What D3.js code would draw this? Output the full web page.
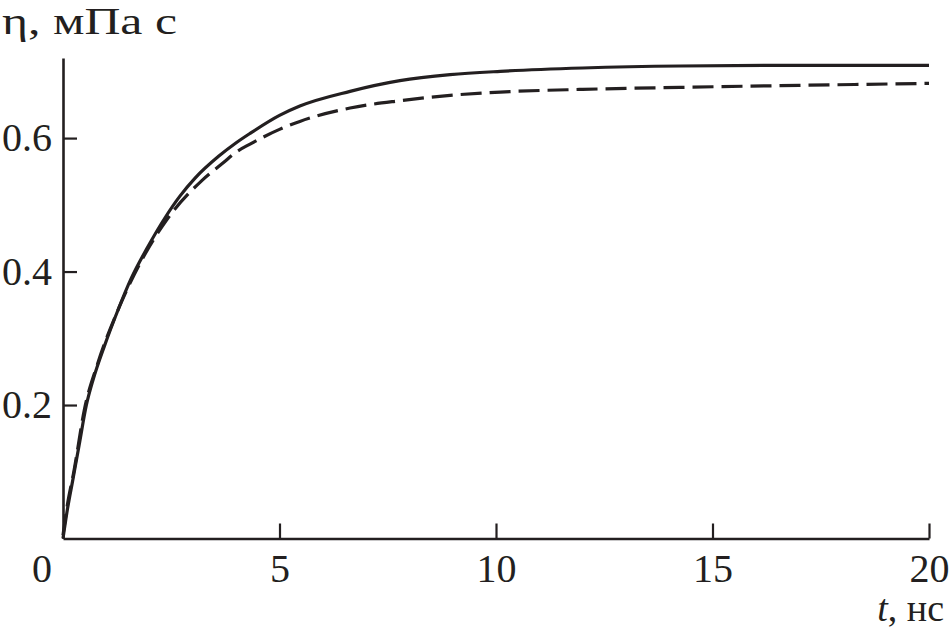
<!DOCTYPE html>
<html>
<head>
<meta charset="utf-8">
<script src="https://cdn.jsdelivr.net/npm/d3@7"></script>
<style>
  html, body { margin: 0; padding: 0; background: #fff; }
  svg { display: block; }
  svg text { font-family: "Liberation Serif", "DejaVu Serif", "Noto Serif", serif; }
</style>
</head>
<body>
<svg id="chart" width="949" height="639"></svg>
<script>
// ---- data ----
const solidT = [0, 0.09, 0.23, 0.37, 0.54, 0.70, 0.96, 1.25, 1.57, 1.95, 2.39, 2.7, 3.05, 3.6, 4.0, 4.32, 5.0, 5.47, 6.63, 7.78, 8.94, 10.1, 12, 14.25, 17, 20];
const solidEta = [0, 0.039, 0.089, 0.139, 0.200, 0.239, 0.289, 0.339, 0.389, 0.436, 0.484, 0.513, 0.540, 0.573, 0.593, 0.607, 0.634, 0.648, 0.670, 0.686, 0.695, 0.700, 0.705, 0.708, 0.709, 0.709];

const dashedT = [0, 0.1, 0.25, 0.5, 0.8, 1.3, 1.8, 2.4, 3.2, 3.7, 4.0, 4.32, 5.0, 5.47, 6.63, 7.78, 8.94, 10.1, 12, 14.25, 17, 20];
const dashedEta = [0.005, 0.05, 0.10, 0.195, 0.262, 0.347, 0.415, 0.478, 0.536, 0.563, 0.579, 0.591, 0.613, 0.625, 0.645, 0.656, 0.664, 0.669, 0.673, 0.676, 0.679, 0.682];

const xTicks = [5, 10, 15, 20];
const yTicks = [0.2, 0.4, 0.6];
const xDomain = [0, 20];
const yDomain = [0, 0.72];
const yTitle = "η, мПа с";
const xTitleVar = "t";
const xTitleUnit = ", нс";
const originLabel = "0";

// ---- drawing ----
const svg = d3.select("#chart");
const ink = "#231f20";
const fs = 40;

const x = d3.scaleLinear().domain(xDomain).range([63, 929]);
const y = d3.scaleLinear().domain(yDomain).range([538.5, 58]);

const xAxis = d3.axisBottom(x).tickValues(xTicks).tickFormat(d3.format("d"))
  .tickSizeInner(-15).tickSizeOuter(0).tickPadding(15);
const yAxis = d3.axisLeft(y).tickValues(yTicks).tickFormat(d3.format(".1f"))
  .tickSizeInner(-14).tickSizeOuter(0).tickPadding(11);

const gx = svg.append("g").attr("transform", `translate(0,${y(0)})`).call(xAxis);
const gy = svg.append("g").attr("transform", `translate(${x(0)},0)`).call(yAxis);

[gx, gy].forEach(g => {
  g.attr("font-family", null).attr("font-size", null);
  g.select(".domain").attr("stroke", ink).attr("stroke-width", 2.6);
  g.selectAll(".tick line").attr("stroke", ink).attr("stroke-width", 2.2);
  g.selectAll(".tick text").attr("fill", ink).style("font-size", fs + "px");
});

svg.append("text")
  .attr("x", 42).attr("y", 582)
  .attr("text-anchor", "middle")
  .attr("fill", ink)
  .style("font-size", fs + "px")
  .text(originLabel);

// curves
const line = d3.line().x(d => x(d[0])).y(d => y(d[1])).curve(d3.curveMonotoneX);

svg.append("path")
  .datum(dashedT.map((t, i) => [t, dashedEta[i]]))
  .attr("d", line)
  .attr("fill", "none").attr("stroke", ink).attr("stroke-width", 3.2)
  .attr("stroke-dasharray", "21,8");

svg.append("path")
  .datum(solidT.map((t, i) => [t, solidEta[i]]))
  .attr("d", line)
  .attr("fill", "none").attr("stroke", ink).attr("stroke-width", 3.2);

// titles
svg.append("text")
  .attr("x", 2).attr("y", 34)
  .attr("fill", ink)
  .attr("textLength", 175)
  .attr("lengthAdjust", "spacingAndGlyphs")
  .style("font-size", "38px")
  .text(yTitle);

const xt = svg.append("text")
  .attr("x", 944).attr("y", 621)
  .attr("text-anchor", "end")
  .attr("fill", ink)
  .style("font-size", "38px");
xt.append("tspan").style("font-style", "italic").text(xTitleVar);
xt.append("tspan").text(xTitleUnit);
</script>
</body>
</html>
